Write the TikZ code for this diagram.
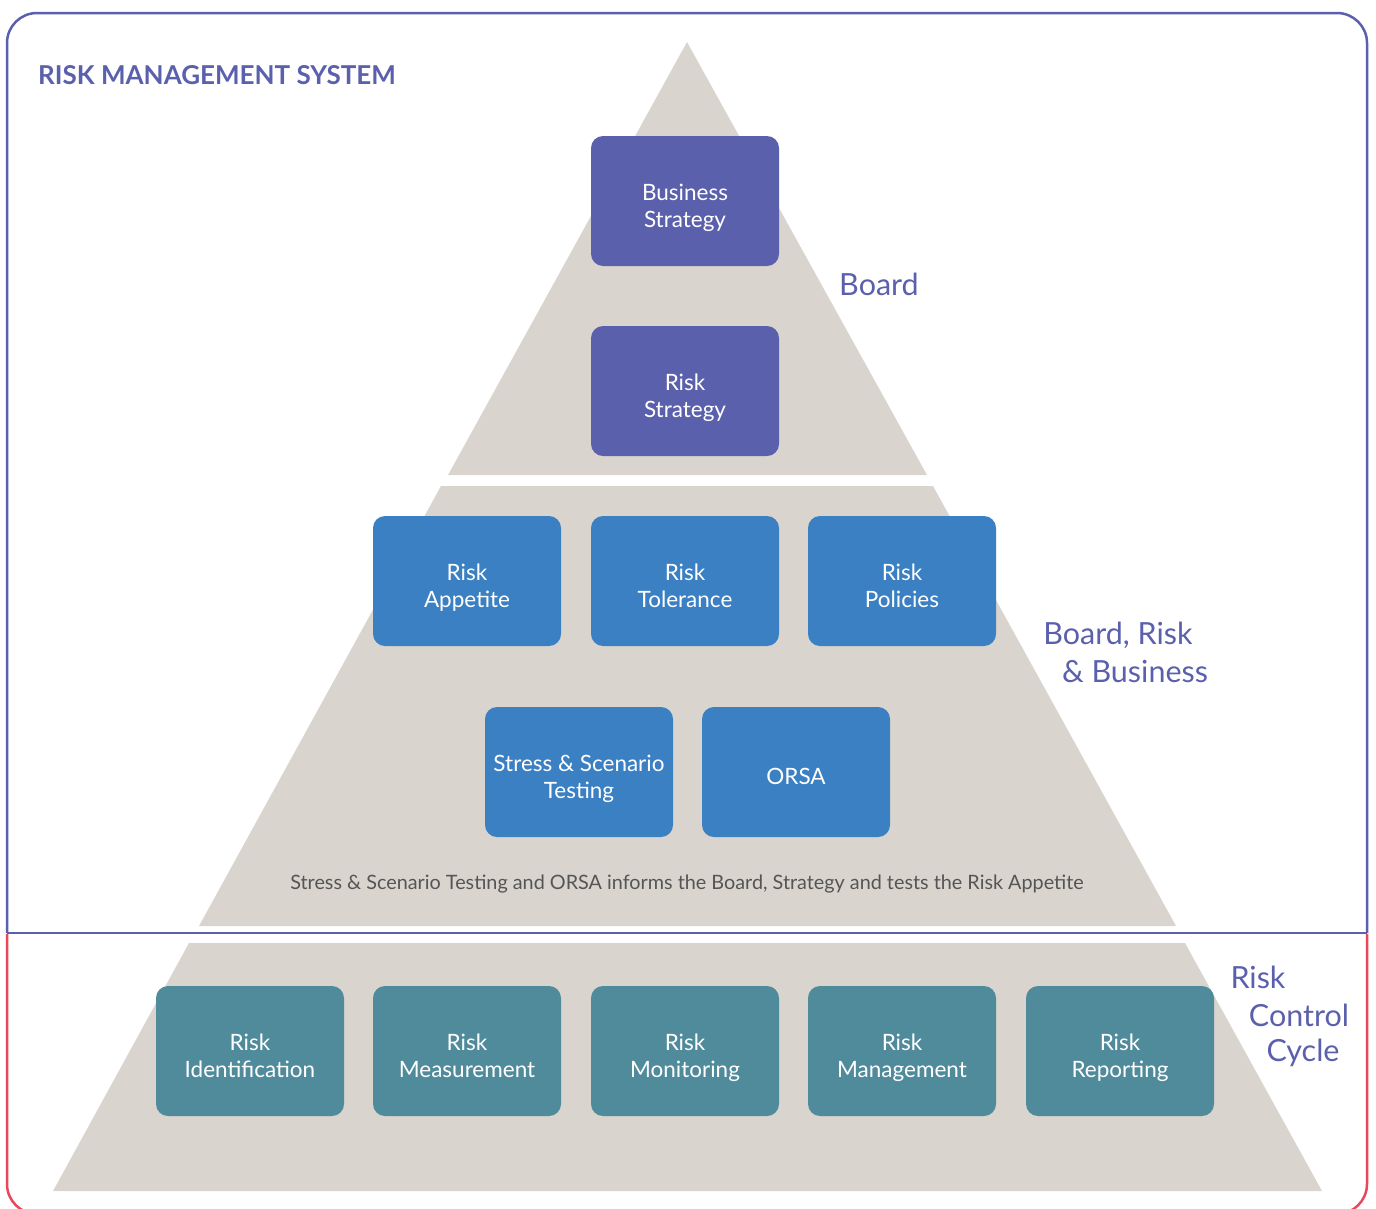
\documentclass[tikz,border=0pt]{standalone}
\usepackage{fontspec}
\setmainfont{Lato}
\definecolor{boardc}{RGB}{91,96,173}
\definecolor{bluec}{RGB}{58,128,195}
\definecolor{tealc}{RGB}{80,139,156}
\definecolor{pyrc}{RGB}{217,213,206}
\definecolor{redc}{RGB}{232,72,92}
\definecolor{capc}{RGB}{85,85,85}
\tikzset{
  boxbase/.style={rounded corners=12pt, minimum width=188pt, minimum height=130pt, inner sep=0pt},
  boardbox/.style={boxbase, fill=boardc},
  bluebox/.style={boxbase, fill=bluec},
  tealbox/.style={boxbase, fill=tealc},
  boxtext/.style={inner sep=0pt, align=center, text=white, text depth=6pt, font=\fontsize{22.5}{27}\selectfont},
  sidelabel/.style={text=boardc, font=\fontsize{30.5}{37}\selectfont, inner sep=0pt},
  pyr/.style={fill=pyrc, draw=none},
}
\begin{document}
\begin{tikzpicture}[x=1pt,y=-1pt]
\useasboundingbox (0,0) rectangle (1376,1208);
% frame
\draw[boardc, line width=2.5pt, rounded corners=30pt] (7,933) -- (7,13) -- (1367,13) -- (1367,933);
\draw[redc, line width=2.5pt, rounded corners=30pt] (7,934) -- (7,1214) -- (1367,1214) -- (1367,934);
\draw[boardc, line width=2.5pt] (7,933) -- (1367,933);
% pyramid
\fill[pyr] (687,42) -- (927,475) -- (448,475) -- cycle;
\fill[pyr] (441,486) -- (933,486) -- (1176,926) -- (199,926) -- cycle;
\fill[pyr] (189,943) -- (1185,943) -- (1322,1191) -- (53,1191) -- cycle;
% title
\node[anchor=base west, text=boardc, font=\bfseries\fontsize{26}{30}\selectfont, inner sep=0pt] (title) at (38,84) {RISK MANAGEMENT SYSTEM};
% boxes
\node[boardbox] (bs) at (685,201) {};
\node[boardbox] (rs) at (685,391) {};
\node[bluebox] (ra) at (467,581) {};
\node[bluebox] (rt) at (685,581) {};
\node[bluebox] (rp) at (902,581) {};
\node[bluebox] (sst) at (579,772) {};
\node[bluebox] (orsa) at (796,772) {};
\node[tealbox] (ri) at (250,1051) {};
\node[tealbox] (rme) at (467,1051) {};
\node[tealbox] (rmo) at (685,1051) {};
\node[tealbox] (rma) at (902,1051) {};
\node[tealbox] (rre) at (1120,1051) {};
% box texts
\node[boxtext] (bst) at ([yshift=-8pt]bs.center) {Business\\Strategy};
\node[boxtext] (rst) at ([yshift=-8pt]rs.center) {Risk\\Strategy};
\node[boxtext] (rat) at ([yshift=-8pt]ra.center) {Risk\\Appetite};
\node[boxtext] (rtt) at ([yshift=-8pt]rt.center) {Risk\\Tolerance};
\node[boxtext] (rpt) at ([yshift=-8pt]rp.center) {Risk\\Policies};
\node[boxtext] (sstt) at ([yshift=-8pt]sst.center) {Stress \& Scenario\\Testing};
\node[boxtext] (orsat) at ([yshift=-7pt]orsa.center) {ORSA};
\node[boxtext] (rit) at ([yshift=-8pt]ri.center) {Risk\\Identification};
\node[boxtext] (rmet) at ([yshift=-8pt]rme.center) {Risk\\Measurement};
\node[boxtext] (rmot) at ([yshift=-8pt]rmo.center) {Risk\\Monitoring};
\node[boxtext] (rmat) at ([yshift=-8pt]rma.center) {Risk\\Management};
\node[boxtext] (rret) at ([yshift=-8pt]rre.center) {Risk\\Reporting};
% caption
\node[text=capc, font=\fontsize{19.8}{22}\selectfont, inner sep=0pt] (cap) at (687,884) {Stress \& Scenario Testing and ORSA informs the Board, Strategy and tests the Risk Appetite};
% side labels
\node[sidelabel] (lb) at (879,284) {Board};
\node[sidelabel] (lbr1) at (1118,635) {Board, Risk};
\node[sidelabel] (lbr2) at (1135,671) {\& Business};
\node[sidelabel] (lrc1) at (1258,977) {Risk};
\node[sidelabel] (lrc2) at (1299,1015) {Control};
\node[sidelabel] (lrc3) at (1303,1053) {Cycle};
\end{tikzpicture}
\end{document}
